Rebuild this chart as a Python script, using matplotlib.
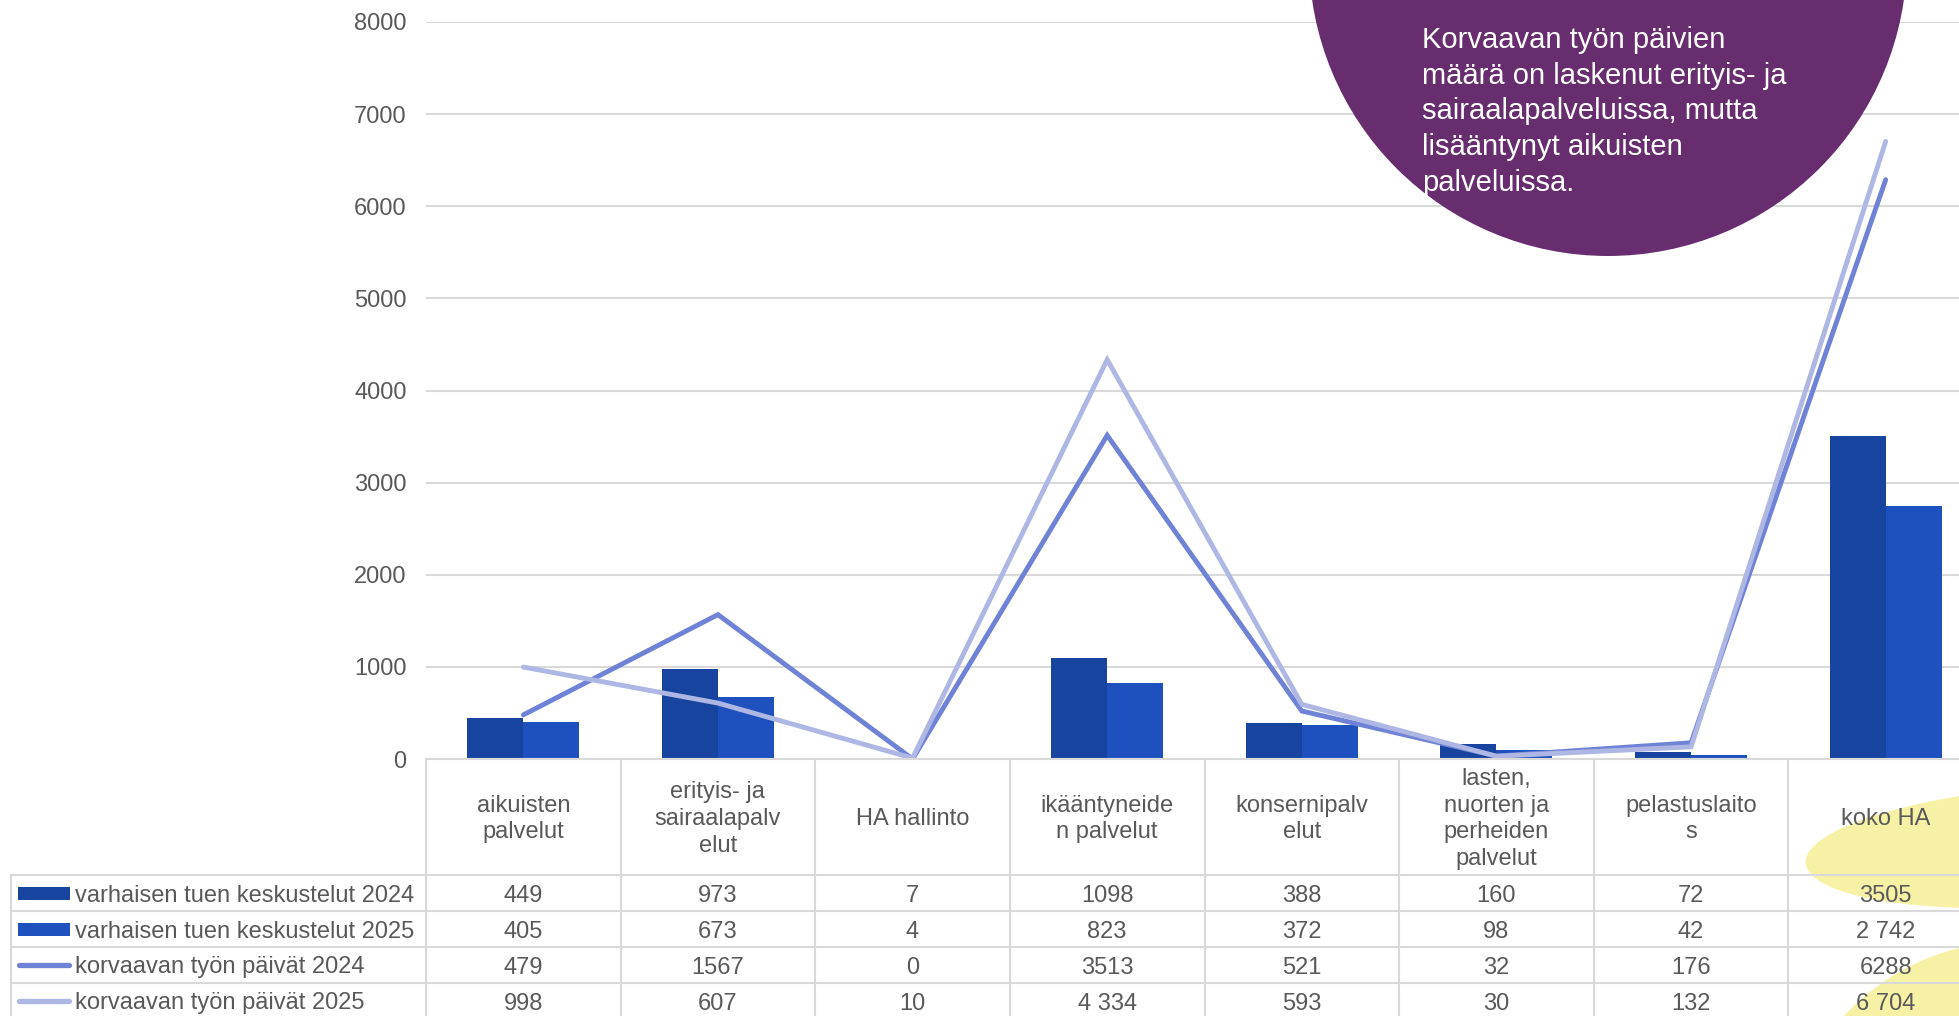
import matplotlib
matplotlib.use('Agg')
import matplotlib.pyplot as plt
import matplotlib.transforms as mtransforms
from matplotlib.patches import Circle, Ellipse, Rectangle
import numpy as np

plt.rcParams['font.family'] = ['Liberation Sans', 'DejaVu Sans']

# =====================================================
# DATA
# =====================================================

categories = [
    'aikuisten\npalvelut',
    'erityis- ja\nsairaalapalv\nelut',
    'HA hallinto',
    'ikääntyneide\nn palvelut',
    'konsernipalv\nelut',
    'lasten,\nnuorten ja\nperheiden\npalvelut',
    'pelastuslaito\ns',
    'koko HA',
]

talks_2024 = [449, 973, 7, 1098, 388, 160, 72, 3505]
talks_2025 = [405, 673, 4, 823, 372, 98, 42, 2742]
days_2024 = [479, 1567, 0, 3513, 521, 32, 176, 6288]
days_2025 = [998, 607, 10, 4334, 593, 30, 132, 6704]

# table cell texts as shown in the source
talks_2024_txt = ['449', '973', '7', '1098', '388', '160', '72', '3505']
talks_2025_txt = ['405', '673', '4', '823', '372', '98', '42', '2 742']
days_2024_txt = ['479', '1567', '0', '3513', '521', '32', '176', '6288']
days_2025_txt = ['998', '607', '10', '4 334', '593', '30', '132', '6 704']

series_names = [
    'varhaisen tuen keskustelut 2024',
    'varhaisen tuen keskustelut 2025',
    'korvaavan työn päivät 2024',
    'korvaavan työn päivät 2025',
]

note = ('Korvaavan työn päivien\nmäärä on laskenut erityis- ja\n'
        'sairaalapalveluissa, mutta\nlisääntynyt aikuisten\npalveluissa.')

C_BAR24 = '#17449e'
C_BAR25 = '#1f51be'
C_LINE24 = '#6e82d6'
C_LINE25 = '#aeb6e3'
C_GRID = '#d9d9d9'
C_TEXT = '#595959'
C_PURPLE = '#682d6f'
C_YELLOW = '#f7f1a6'

# =====================================================
# FIGURE
# =====================================================

W, H = 1959, 1016
fig = plt.figure(figsize=(W / 100, H / 100), dpi=100)

# background layer (decor shapes), pixel coords
bg = fig.add_axes([0, 0, 1, 1], zorder=0)
bg.set_xlim(0, W)
bg.set_ylim(H, 0)
bg.axis('off')
bg.add_patch(Ellipse((2050, 846), 490, 120, angle=-4, color=C_YELLOW, lw=0))
bg.add_patch(Circle((2016, 1176), 235, color=C_YELLOW, lw=0))

# main chart
ax = fig.add_axes([426 / W, 1 - 759 / H, (1983 - 426) / W, (759 - 22) / H],
                  zorder=1)
ax.patch.set_alpha(0)

x = np.arange(len(categories))
bw = 0.288
ax.bar(x - bw / 2, talks_2024, bw, color=C_BAR24, zorder=2)
ax.bar(x + bw / 2, talks_2025, bw, color=C_BAR25, zorder=2)
ax.plot(x, days_2024, color=C_LINE24, lw=3.5, zorder=3,
        solid_joinstyle='miter', solid_capstyle='round')
ax.plot(x, days_2025, color=C_LINE25, lw=3.5, zorder=4,
        solid_joinstyle='miter', solid_capstyle='round')

ax.set_xlim(-0.5, len(categories) - 0.5)
ax.set_ylim(0, 8000)
ax.set_yticks(range(0, 8001, 1000))
ax.set_xticks([])
ax.yaxis.grid(True, color=C_GRID, lw=1.5)
ax.set_axisbelow(True)
for s in ax.spines.values():
    s.set_visible(False)
ax.tick_params(axis='y', length=0, pad=14, labelsize=17, labelcolor=C_TEXT)

# =====================================================
# TABLE + NOTE (top layer)
# =====================================================

top = fig.add_axes([0, 0, 1, 1], zorder=2)
top.set_xlim(0, W)
top.set_ylim(H, 0)
top.axis('off')
top.patch.set_alpha(0)

tr = mtransforms.blended_transform_factory(ax.transData, top.transData)

y_head_top = 759
y_head_bot = 875
row_h = 36
rows_y = [y_head_bot + i * row_h for i in range(5)]
x_left = 11

# horizontal lines
top.plot([-0.5, len(categories) - 0.5 + 0.2], [y_head_top, y_head_top],
         transform=tr, color=C_GRID, lw=1.5, clip_on=False)
for yy in rows_y:
    top.plot([x_left, W + 50], [yy, yy], color=C_GRID, lw=1.5)
# vertical lines
for i in range(len(categories) + 1):
    top.plot([i - 0.5, i - 0.5], [y_head_top, H + 10], transform=tr,
             color=C_GRID, lw=1.5, clip_on=False)
top.plot([x_left, x_left], [y_head_bot, H + 10], color=C_GRID, lw=1.5)

# header labels
for i, lab in enumerate(categories):
    top.text(i, (y_head_top + y_head_bot) / 2 + 2, lab, transform=tr,
             ha='center', va='center', fontsize=17, color=C_TEXT,
             linespacing=1.29)

# rows
rows = [talks_2024_txt, talks_2025_txt, days_2024_txt, days_2025_txt]
for r, vals in enumerate(rows):
    yc = rows_y[r] + row_h / 2
    for i, v in enumerate(vals):
        top.text(i, yc + 2.5, v, transform=tr, ha='center', va='center',
                 fontsize=17, color=C_TEXT)
    top.text(75, yc + 2.5, series_names[r], ha='left', va='center',
             fontsize=17, color=C_TEXT)

# legend keys
for r, col in enumerate([C_BAR24, C_BAR25]):
    yc = rows_y[r] + row_h / 2
    top.add_patch(Rectangle((18, yc - 6.5), 52, 13, color=col, lw=0))
for r, col in zip([2, 3], [C_LINE24, C_LINE25]):
    yc = rows_y[r] + row_h / 2
    top.plot([19, 69], [yc, yc], color=col, lw=3.8,
             solid_capstyle='round')

# purple note circle
top.add_patch(Circle((1608, -43), 299, color=C_PURPLE, lw=0))
top.text(1422, 26, note, ha='left', va='top', fontsize=21, color='white',
         linespacing=1.35)

fig.savefig('out.png', dpi=100)
